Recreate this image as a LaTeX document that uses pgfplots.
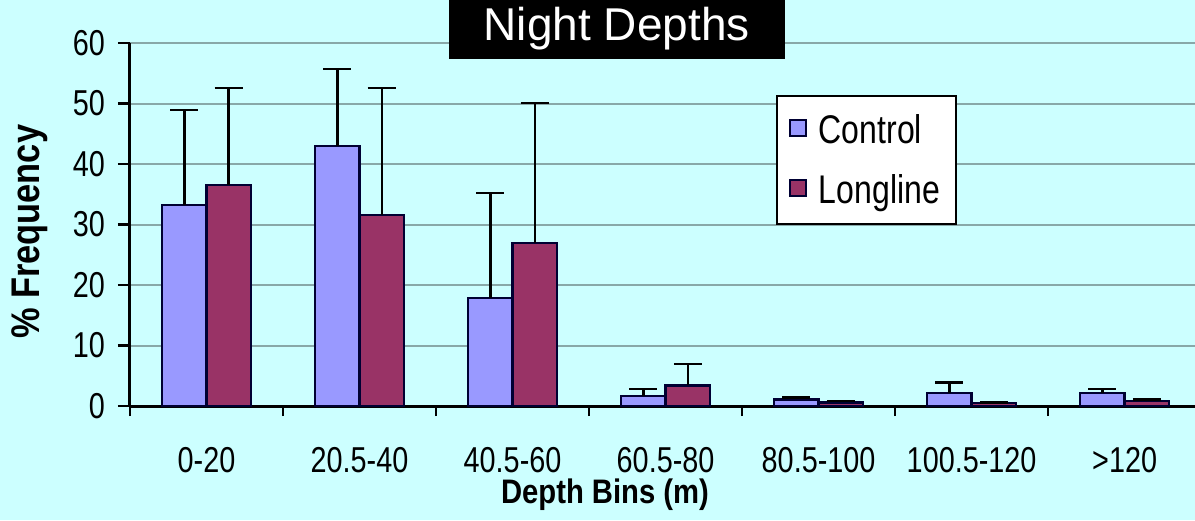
\documentclass[border=0pt]{standalone}
\usepackage{fontspec}
\setmainfont{Liberation Sans}
\newfontfamily\narrowfont[FakeStretch=0.8]{Liberation Sans}
\newfontfamily\boldnarrow[FakeStretch=0.86]{Liberation Sans}
\usepackage{pgfplots}
\pgfplotsset{compat=1.18}
\definecolor{bgcyan}{HTML}{CCFFFF}
\definecolor{gridgray}{HTML}{88A8A8}
\definecolor{control}{HTML}{9999FF}
\definecolor{longline}{HTML}{993366}
\definecolor{bardraw}{HTML}{000033}

\begin{document}
\begin{tikzpicture}
\fill[bgcyan] (-65pt,-57pt) rectangle (532.5pt,203pt);
\begin{axis}[
    scale only axis,
    width=532.5pt,
    height=181.5pt,
    clip=false,
    xmin=-0.5, xmax=6.46,
    ymin=0, ymax=60,
    axis x line*=bottom,
    axis y line*=left,
    axis line style={black, line width=1.5pt},
    ytick={0,10,...,60},
    ymajorgrids,
    grid style={gridgray, line width=1pt},
    xtick={0,...,6},
    xticklabels={0-20,20.5-40,40.5-60,60.5-80,80.5-100,100.5-120,>120},
    minor xtick={-0.5,0.5,...,6.5},
    major tick length=0pt,
    minor tick length=5pt,
    tick align=outside,
    tick style={black, line width=1.2pt},
    extra y ticks={0,10,...,60},
    extra y tick labels={},
    extra y tick style={major tick length=6pt, grid=none},
    /pgf/number format/assume math mode=true,
    ticklabel style={font=\narrowfont\fontsize{18}{18}\selectfont},
    yticklabel style={xshift=-9pt},
    xticklabel style={yshift=-17pt},
    ybar,
    bar width=0.29,
    xlabel={\boldnarrow\bfseries\fontsize{17}{17}\selectfont Depth Bins (m)},
    xlabel style={at={(rel axis cs:0.446,-0.245)}, anchor=center},
    ylabel={\boldnarrow\bfseries\fontsize{20}{20}\selectfont \% Frequency},
    ylabel style={at={(rel axis cs:-0.094,0.48)}, anchor=center},
    legend style={at={(rel axis cs:0.6066,0.857)}, anchor=north west,
        fill=white, draw=black, line width=1.2pt,
        font=\narrowfont\fontsize{20}{20}\selectfont,
        row sep=10pt, inner xsep=6pt, inner ysep=7pt},
    legend cell align=left,
    legend image code/.code={\draw[#1, draw=bardraw, line width=0.8pt] (0pt,-3pt) rectangle (8pt,5pt);},
    legend style={/tikz/every odd column/.append style={column sep=4pt}},
    error bars/error bar style={black, line width=1.2pt},
    error bars/error mark options={black, line width=1.2pt, mark size=7pt, rotate=90},
]
\addplot[fill=control, draw=bardraw, line width=1.2pt, bar shift=-0.145,
    error bars/.cd, y dir=plus, y explicit]
    coordinates {
    (0,33.2) +- (0,15.7)
    (1,43.0) +- (0,12.7)
    (2,17.9) +- (0,17.3)
    (3,1.7) +- (0,1.1)
    (4,1.1) +- (0,0.3)
    (5,2.1) +- (0,1.8)
    (6,2.1) +- (0,0.7)
};
\addlegendentry{Control}
\addplot[fill=longline, draw=bardraw, line width=1.2pt, bar shift=0.145,
    error bars/.cd, y dir=plus, y explicit]
    coordinates {
    (0,36.5) +- (0,16.1)
    (1,31.6) +- (0,21.0)
    (2,26.9) +- (0,23.2)
    (3,3.4) +- (0,3.5)
    (4,0.6) +- (0,0.2)
    (5,0.5) +- (0,0.1)
    (6,0.8) +- (0,0.3)
};
\addlegendentry{Longline}
\node[fill=black, text=white, minimum width=168pt, minimum height=31pt,
    font=\fontsize{23}{23}\selectfont, inner sep=0pt]
    at (rel axis cs:0.457,1.04) {Night Depths};
\end{axis}
\pgfresetboundingbox
\path (-65pt,-57pt) rectangle (532.5pt,203pt);
\end{tikzpicture}
\end{document}
